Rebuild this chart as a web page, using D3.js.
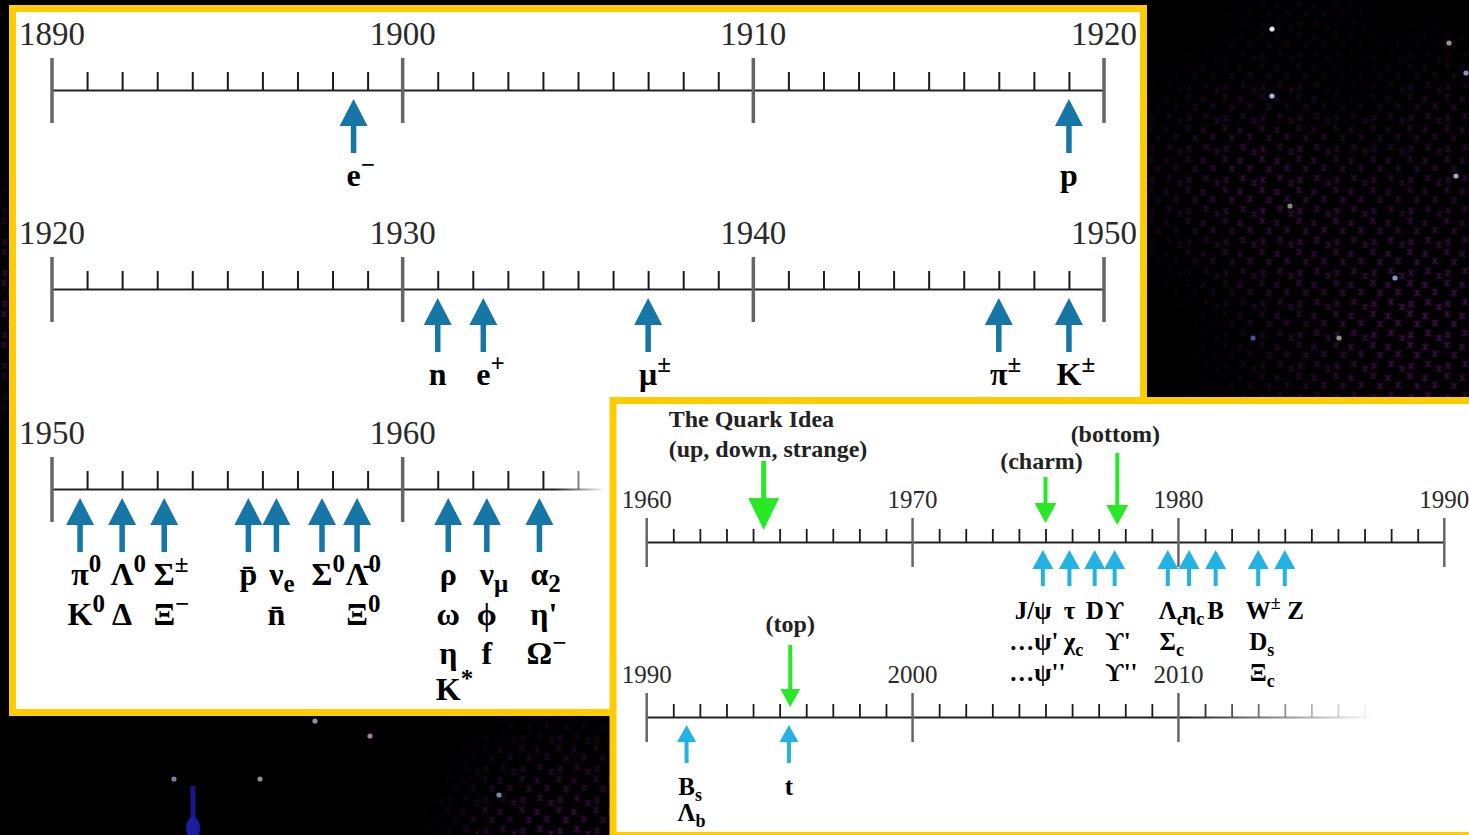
<!DOCTYPE html>
<html>
<head>
<meta charset="utf-8">
<script src="https://cdn.jsdelivr.net/npm/d3@7"></script>
<style>
  html, body { margin: 0; padding: 0; background: #000; overflow: hidden; }
  svg { display: block; }
</style>
</head>
<body>
<svg id="chart" width="1469" height="835"></svg>
<script>
// ---- data (discovery years + particle names) ----
// label markup: [x] = glyph centred on the arrow, ^ = superscript, _ = subscript
var row1Ticks = [1890, 1900, 1910, 1920];
var row1Years = [1898.6, 1919.0];
var row1Labels = [["[e]^−"], ["[p]"]];

var row2Ticks = [1920, 1930, 1940, 1950];
var row2Years = [1931.0, 1932.3, 1937.0, 1947.0, 1949.0];
var row2Labels = [["[n]"], ["[e]^+"], ["[μ]^±"], ["[π]^±"], ["[K]^±"]];

var row3Ticks = [1950, 1960];
var row3Years = [1950.8, 1952.0, 1953.2, 1955.6, 1956.4, 1957.7, 1958.7, 1961.3, 1962.4, 1963.9];
var row3Labels = [
  ["[π]^0", "[K]^0"],
  ["[Λ]^0", "[Δ]"],
  ["[Σ]^±", "[Ξ]^−"],
  ["[p̄]"],
  ["[ν]_e", "[n̄]"],
  ["[Σ]^0"],
  ["[Λ̄]^0", "[Ξ]^0"],
  ["[ρ]", "[ω]", "[η]", "[K]^*"],
  ["[ν]_μ", "[ϕ]", "[f]"],
  ["[α]_2", "[η]'", "[Ω]^−"]
];

var rowATicks = [1960, 1970, 1980, 1990];
var rowAYears = [1974.9, 1975.9, 1976.85, 1977.6, 1979.6, 1980.4, 1981.4, 1983.0, 1984.0];
var rowALabels = [
  ["J/[ψ]", "…[ψ]'", "…[ψ]''"],
  ["[τ]", "[χ]_c"],
  ["[D]"],
  ["[ϒ]", "[ϒ]'", "[ϒ]''"],
  ["[Λ]_c", "[Σ]_c"],
  ["[η]_c"],
  ["[B]"],
  ["[W]^±", "[D]_s", "[Ξ]_c"],
  ["[\u2009]Z"]
];
var ideaYears = [1964.4, 1975.0, 1977.7];
var ideaLabels = [["The Quark Idea", "(up, down, strange)"], ["(charm)"], ["(bottom)"]];

var rowBTicks = [1990, 2000, 2010];
var rowBYears = [1991.5, 1995.35];
var rowBLabels = [["[B]_s", "[Λ]_b"], ["[t]"]];
var topYears = [1995.4];
var topLabels = [["(top)"]];

// ---- drawing ----
var SERIF = "'Liberation Serif', 'DejaVu Serif', serif";
var svg = d3.select("#chart");
var defs = svg.append("defs");

svg.append("rect").attr("width", 1469).attr("height", 835).attr("fill", "#000");

// purple star dust in the background
var pat = defs.append("pattern").attr("id", "dust")
    .attr("patternUnits", "userSpaceOnUse").attr("width", 37).attr("height", 31);
[[4, 4], [19, 6], [11, 14], [29, 13], [5, 25], [22, 23], [33, 28]].forEach(function(p) {
  pat.append("path")
    .attr("d", "M" + (p[0] - 3) + "," + (p[1] - 3) + "l6,6M" + (p[0] + 3) + "," + (p[1] - 3) + "l-6,6M" + p[0] + "," + (p[1] - 3.5) + "v7")
    .attr("stroke", "#400a4c").attr("stroke-width", 1.4);
});
var mask = defs.append("mask").attr("id", "dustMask");
mask.append("rect").attr("width", 1469).attr("height", 835).attr("fill", "#000");
var rg = defs.append("radialGradient").attr("id", "fadeBlob");
rg.append("stop").attr("offset", "0%").attr("stop-color", "#fff").attr("stop-opacity", 1);
rg.append("stop").attr("offset", "60%").attr("stop-color", "#fff").attr("stop-opacity", 0.5);
rg.append("stop").attr("offset", "100%").attr("stop-color", "#fff").attr("stop-opacity", 0);
[[1420, 320, 240, 1], [1250, 180, 150, 0.8], [1440, 110, 100, 0.5], [560, 835, 140, 0.9],
 [0, 300, 140, 0.8], [1300, 20, 90, 0.3]].forEach(function(b) {
  mask.append("circle").attr("cx", b[0]).attr("cy", b[1]).attr("r", b[2])
    .attr("fill", "url(#fadeBlob)").attr("opacity", b[3]);
});
svg.append("rect").attr("width", 1469).attr("height", 835)
  .attr("fill", "url(#dust)").attr("mask", "url(#dustMask)");

var stars = [[1272, 29, "#e6e6e6"], [1272, 96, "#aab0dd"], [1449, 43, "#a888a8"], [1466, 73, "#8890cc"],
  [1456, 176, "#a0a8c8"], [1290, 206, "#888878"], [1395, 278, "#8890c8"], [1253, 338, "#4450a0"],
  [1339, 338, "#909080"], [315, 721, "#9090b0"], [370, 736, "#a080a8"], [174, 779, "#7080a8"],
  [260, 779, "#909088"], [499, 795, "#7088a8"]];
svg.append("rect").attr("x", 190.5).attr("y", 786).attr("width", 5).attr("height", 60).attr("fill", "#18188c");
svg.append("ellipse").attr("cx", 193).attr("cy", 828).attr("rx", 7).attr("ry", 11).attr("fill", "#1c1ca0");
svg.selectAll("circle.star").data(stars).join("circle").attr("class", "star")
  .attr("cx", function(d) { return d[0]; }).attr("cy", function(d) { return d[1]; })
  .attr("r", 2.6).attr("fill", function(d) { return d[2]; });

// helpers
function fader(start, end) {
  return function(px) {
    if (start == null) return 1;
    return Math.max(0, Math.min(1, (end - px) / (end - start)));
  };
}

function parseSpec(s) {
  var m = s.match(/^(.*?)\[(.+?)\](.*)$/);
  var out = { pre: m[1], base: m[2], sup: "", sub: "", tail: "" };
  var rest = m[3];
  if (rest.charAt(0) === "^") out.sup = rest.slice(1);
  else if (rest.charAt(0) === "_") out.sub = rest.slice(1);
  else out.tail = rest;
  return out;
}

function putLabel(g, cx, baseline, spec, size, smallSize) {
  var p = parseSpec(spec);
  var t = g.append("text").attr("y", baseline)
    .attr("font-family", SERIF).attr("font-weight", "bold")
    .attr("font-size", size).attr("fill", "#000");
  if (p.pre) t.append("tspan").text(p.pre);
  t.append("tspan").text(p.base);
  if (p.sup) t.append("tspan").attr("font-size", smallSize).attr("dy", -0.42 * size).text(p.sup);
  if (p.sub) t.append("tspan").attr("font-size", smallSize).attr("dy", 0.22 * size).text(p.sub);
  if (p.tail) t.append("tspan").text(p.tail);
  var node = t.node();
  var preW = p.pre ? node.getSubStringLength(0, p.pre.length) : 0;
  var baseW = node.getSubStringLength(p.pre.length, p.base.length);
  t.attr("x", cx - preW - baseW / 2);
}

function arrowPath(x, tipY, tailY, headW, headH, shaftW) {
  var dir = tailY > tipY ? 1 : -1;
  var hb = tipY + dir * headH;
  return "M" + x + "," + tipY +
    "L" + (x + headW / 2) + "," + hb +
    "L" + (x + shaftW / 2) + "," + hb +
    "L" + (x + shaftW / 2) + "," + tailY +
    "L" + (x - shaftW / 2) + "," + tailY +
    "L" + (x - shaftW / 2) + "," + hb +
    "L" + (x - headW / 2) + "," + hb + "Z";
}

// one timeline: axis line, yearly ticks, decade ticks and labels
function drawTimeline(g, ticks, lineY, st) {
  var x = d3.scaleLinear().domain([ticks[0], ticks[0] + 30]).range(st.range);
  var op = fader(st.fadeStart, st.fadeEnd);
  var gid = "fade" + Math.round(lineY);
  if (st.fadeStart != null) {
    var lg = defs.append("linearGradient").attr("id", gid)
      .attr("gradientUnits", "userSpaceOnUse")
      .attr("x1", st.fadeStart).attr("x2", st.fadeEnd).attr("y1", 0).attr("y2", 0);
    lg.append("stop").attr("offset", 0).attr("stop-color", "#222").attr("stop-opacity", 1);
    lg.append("stop").attr("offset", 1).attr("stop-color", "#222").attr("stop-opacity", 0);
  }
  var minors = d3.range(ticks[0], ticks[0] + 31).filter(function(d) {
    return d % 10 !== 0 && op(x(d)) > 0.02;
  });
  var axis = d3.axisTop(x).tickValues(minors).tickSize(st.minorLen)
    .tickSizeOuter(0).tickFormat("");
  var ag = g.append("g").attr("transform", "translate(0," + lineY + ")")
    .attr("color", "#1a1a1a").call(axis);
  ag.select(".domain")
    .attr("stroke", st.fadeStart != null ? "url(#" + gid + ")" : "#222")
    .attr("stroke-width", st.lineW);
  ag.selectAll(".tick line").attr("stroke-width", st.minorW);
  ag.selectAll(".tick").attr("opacity", function(d) { return op(x(d)); });

  var majors = d3.range(ticks[0], ticks[0] + 31, 10).filter(function(d) { return op(x(d)) > 0.02; });
  g.selectAll(null).data(majors).join("line")
    .attr("x1", function(d) { return x(d); }).attr("x2", function(d) { return x(d); })
    .attr("y1", lineY - st.majorUp).attr("y2", lineY + st.majorDown)
    .attr("stroke", "#666").attr("stroke-width", st.majorW)
    .attr("opacity", function(d) { return op(x(d)); });

  g.selectAll(null).data(ticks).join("text")
    .attr("x", function(d) { return x(d); }).attr("y", lineY - st.labelOff)
    .attr("text-anchor", "middle").attr("font-family", SERIF)
    .attr("font-size", st.labelSize).attr("fill", "#2a2a2a")
    .text(function(d) { return d; });
  return x;
}

function drawDiscoveries(g, x, lineY, years, labels, st) {
  g.selectAll(null).data(years).join("path")
    .attr("d", function(d) {
      return arrowPath(x(d), lineY + st.tipGap, lineY + st.tail, st.headW, st.headH, st.shaftW);
    })
    .attr("fill", st.color);
  years.forEach(function(yr, i) {
    labels[i].forEach(function(spec, j) {
      putLabel(g, x(yr), lineY + st.lines[j], spec, st.size, st.small);
    });
  });
}

// ---- left panel (1890 - 1966) ----
var left = svg.append("g");
left.append("rect").attr("x", 12.5).attr("y", 8.5).attr("width", 1131).attr("height", 704)
  .attr("fill", "#fff").attr("stroke", "#ffcc00").attr("stroke-width", 7);

var leftAxis = { range: [52, 1104], minorLen: 18, minorW: 2, lineW: 2, majorUp: 32, majorDown: 33,
  majorW: 3.5, labelOff: 45, labelSize: 33 };
var leftArrow = { color: "#1676a6", tipGap: 9, tail: 63, headW: 28, headH: 27, shaftW: 5.5,
  size: 32, small: 25, lines: [96, 136, 175, 211] };

var x1 = drawTimeline(left, row1Ticks, 90, leftAxis);
drawDiscoveries(left, x1, 90, row1Years, row1Labels, leftArrow);

var x2 = drawTimeline(left, row2Ticks, 289, leftAxis);
drawDiscoveries(left, x2, 289, row2Years, row2Labels, leftArrow);

var x3 = drawTimeline(left, row3Ticks, 489, Object.assign({}, leftAxis, { fadeStart: 555, fadeEnd: 605 }));
drawDiscoveries(left, x3, 489, row3Years, row3Labels, leftArrow);

// ---- right panel (1960 - 2017) ----
var right = svg.append("g");
right.append("rect").attr("x", 613).attr("y", 400.5).attr("width", 1000).attr("height", 435)
  .attr("fill", "#fff").attr("stroke", "#ffcc00").attr("stroke-width", 7);

var rightAxis = { range: [646.7, 1444.3], minorLen: 13, minorW: 1.8, lineW: 1.8, majorUp: 24, majorDown: 25,
  majorW: 2.5, labelOff: 34, labelSize: 25 };
var rightArrow = { color: "#22b2e4", tipGap: 8, tail: 44, headW: 21, headH: 19, shaftW: 4,
  size: 25, small: 18, lines: [77, 108, 139] };

var lineA = 542, lineB = 717;
var xa = drawTimeline(right, rowATicks, lineA, rightAxis);
drawDiscoveries(right, xa, lineA, rowAYears, rowALabels, rightArrow);

var xb = drawTimeline(right, rowBTicks, lineB, Object.assign({}, rightAxis, { fadeStart: 1185, fadeEnd: 1375 }));
drawDiscoveries(right, xb, lineB, rowBYears, rowBLabels,
  Object.assign({}, rightArrow, { tail: 46, headW: 19, headH: 17, lines: [78, 104] }));

// green "idea" arrows pointing down onto the axis
var GREEN = "#28e828";
var ideaStyle = [
  { top: 81, tip: 12, headW: 31, headH: 32, shaftW: 5, anchor: "start", dx: -95, lines: [-115, -85] },
  { top: 65, tip: 19, headW: 22, headH: 20, shaftW: 4, anchor: "middle", dx: -4, lines: [-73] },
  { top: 89, tip: 17, headW: 22, headH: 20, shaftW: 4, anchor: "middle", dx: -2, lines: [-100] }
];
function drawIdeas(x, lineY, years, labels, styles) {
  years.forEach(function(yr, i) {
    var s = styles[i];
    right.append("path")
      .attr("d", arrowPath(x(yr), lineY - s.tip, lineY - s.top, s.headW, s.headH, s.shaftW))
      .attr("fill", GREEN);
    labels[i].forEach(function(txt, j) {
      right.append("text").attr("x", x(yr) + s.dx).attr("y", lineY + s.lines[j])
        .attr("text-anchor", s.anchor).attr("font-family", SERIF).attr("font-weight", "bold")
        .attr("font-size", 24).attr("fill", "#222").text(txt);
    });
  });
}
drawIdeas(xa, lineA, ideaYears, ideaLabels, ideaStyle);
drawIdeas(xb, lineB, topYears, topLabels,
  [{ top: 72, tip: 10, headW: 20, headH: 18, shaftW: 4, anchor: "middle", dx: 0, lines: [-85] }]);
</script>
</body>
</html>
